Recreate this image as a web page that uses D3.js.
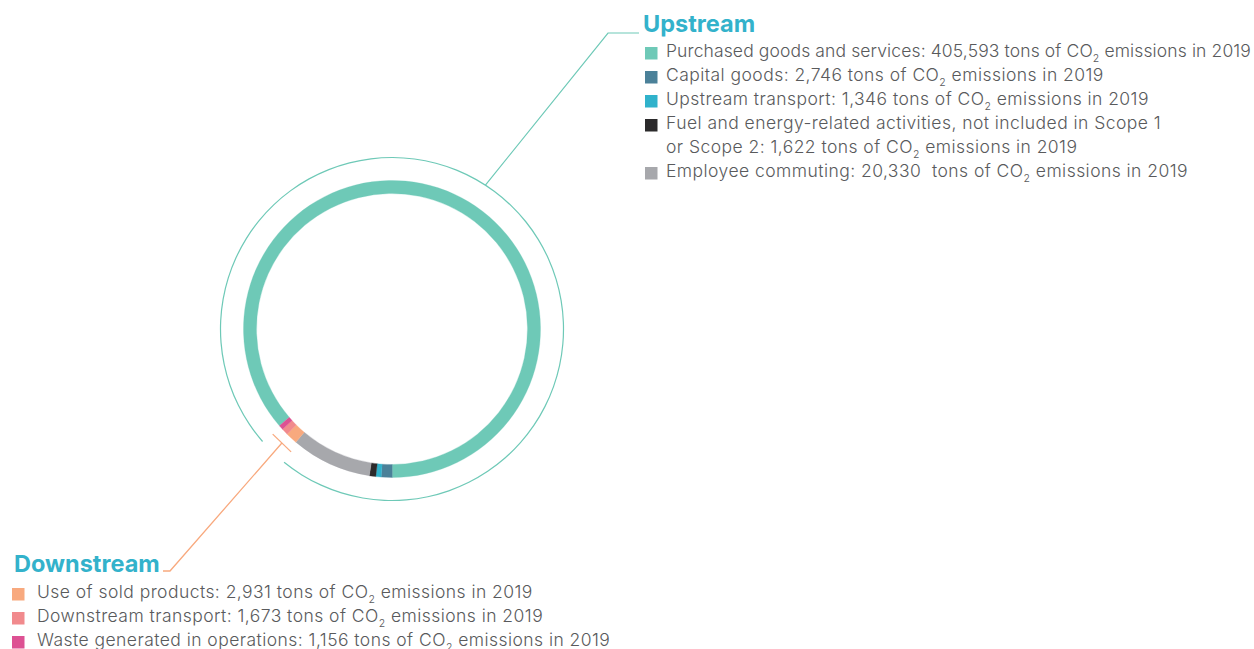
<!DOCTYPE html>
<html><head><meta charset="utf-8">
<script src="https://cdn.jsdelivr.net/npm/d3@7"></script>
<style>
body{margin:0;background:#fff;overflow:hidden}
text{font-family:Inter,"Noto Sans",sans-serif}
</style>
</head><body>
<svg id="chart" width="1254" height="649"></svg>
<script>
// ---- data ----
const upstreamTitle = "Upstream";
const upstreamCategories = [
  "Purchased goods and services",
  "Capital goods",
  "Upstream transport",
  "Fuel and energy-related activities, not included in Scope 1\nor Scope 2",
  "Employee commuting"
];
const upstreamValues = [405593, 2746, 1346, 1622, 20330];
const upstreamColors = ["#6ec9b7", "#4b8199", "#30b2cb", "#2b2a2b", "#a7a8ac"];

const downstreamTitle = "Downstream";
const downstreamCategories = ["Use of sold products", "Downstream transport", "Waste generated in operations"];
const downstreamValues = [2931, 1673, 1156];
const downstreamColors = ["#f8a97e", "#f18a8d", "#dd5193"];

const unitText = " tons of CO";
const yearText = " emissions in 2019";
// The ring in the original is not drawn to scale: the purchased-goods arc
// corresponds to roughly 200,000 t; other arcs use the legend values.
const ringPurchasedAsDrawn = 200000;
const ringValues = [ringPurchasedAsDrawn, ...upstreamValues.slice(1), ...downstreamValues];
const ringColors = [...upstreamColors, ...downstreamColors];

// ---- layout ----
const W = 1254;
const svg = d3.select("#chart");
const cx = 392, cy = 329;
const rIn = 135.5, rOut = 148.5, rThin = 171.5;
const deg = Math.PI / 180;
const start = 229.3 * deg;
const textColor = "#595a5c";
const titleColor = "#33b2cb";
const teal = upstreamColors[0];
const orange = downstreamColors[0];
const baseSpacing = 0.45;

const g = svg.append("g").attr("transform", `translate(${cx},${cy})`);

const pie = d3.pie().sort(null).value(d => d).startAngle(start).endAngle(start + 2 * Math.PI);
const arc = d3.arc().innerRadius(rIn).outerRadius(rOut);
g.selectAll("path.seg").data(pie(ringValues)).join("path")
  .attr("class", "seg")
  .attr("d", arc)
  .attr("fill", (d, i) => ringColors[i])
  .attr("stroke", (d, i) => ringColors[i])
  .attr("stroke-width", 0.3);

// thin outer arc with gap near downstream
const thin = d3.arc().innerRadius(rThin - 0.6).outerRadius(rThin + 0.6);
g.append("path")
  .attr("d", thin({startAngle: 229 * deg, endAngle: (219 + 360) * deg}))
  .attr("fill", teal);

const polar = (r, a) => [r * Math.sin(a), -r * Math.cos(a)];

// downstream T marker + leader
const tAng = 224 * deg, tR = 158.5, half = 12.8;
const [tx, ty] = polar(tR, tAng);
const tang = [Math.cos(tAng), Math.sin(tAng)];
g.append("line")
  .attr("x1", tx - tang[0] * half).attr("y1", ty - tang[1] * half)
  .attr("x2", tx + tang[0] * half).attr("y2", ty + tang[1] * half)
  .attr("stroke", orange).attr("stroke-width", 1.3);
svg.append("path")
  .attr("d", d3.line()([[cx + tx, cy + ty], [170, 571], [163, 571]]))
  .attr("fill", "none").attr("stroke", orange).attr("stroke-width", 1.3);

// upstream leader
const [ux, uy] = polar(rThin, 33 * deg);
svg.append("path")
  .attr("d", d3.line()([[cx + ux, cy + uy], [608, 33], [639, 33]]))
  .attr("fill", "none").attr("stroke", teal).attr("stroke-width", 1.2);

// ---- legends ----
function legend(title, cats, vals, cols, x, titleX, titleY, textX, firstY) {
  svg.append("text").attr("x", titleX).attr("y", titleY)
    .attr("fill", titleColor).attr("font-size", 23.5).attr("font-weight", 700)
    .text(title);
  let y = firstY;
  cats.forEach((c, i) => {
    svg.append("rect").attr("x", x).attr("y", y - 10).attr("width", 12.5).attr("height", 12.5)
      .attr("fill", cols[i]);
    const lines = c.split("\n");
    lines.forEach((ln, j) => {
      const t = svg.append("text").attr("x", textX).attr("y", y)
        .attr("fill", textColor).attr("font-size", 17.5).attr("font-weight", 300)
        .attr("letter-spacing", baseSpacing)
        .style("white-space", "pre");
      if (j < lines.length - 1) { t.text(ln); y += 24; return; }
      const sep = cats[i].startsWith("Employee") ? " " : "";
      t.append("tspan").text(`${ln}: ${d3.format(",")(vals[i])}${sep}${unitText}`);
      t.append("tspan").attr("font-size", 10.5).attr("dy", 5).text("2");
      t.append("tspan").attr("dy", -5).text(yearText);
      // tighten the letter spacing of a line that would run past the right edge
      const maxW = W - 3 - textX;
      const len = t.node().getComputedTextLength();
      if (len > maxW) {
        const n = t.text().length;
        t.attr("letter-spacing", baseSpacing - (len - maxW) / n);
      }
    });
    y += 24;
  });
}
legend(upstreamTitle, upstreamCategories, upstreamValues, upstreamColors, 645, 643, 32, 666, 57);
legend(downstreamTitle, downstreamCategories, downstreamValues, downstreamColors, 12, 14, 572, 37, 598);
</script>
</body></html>
